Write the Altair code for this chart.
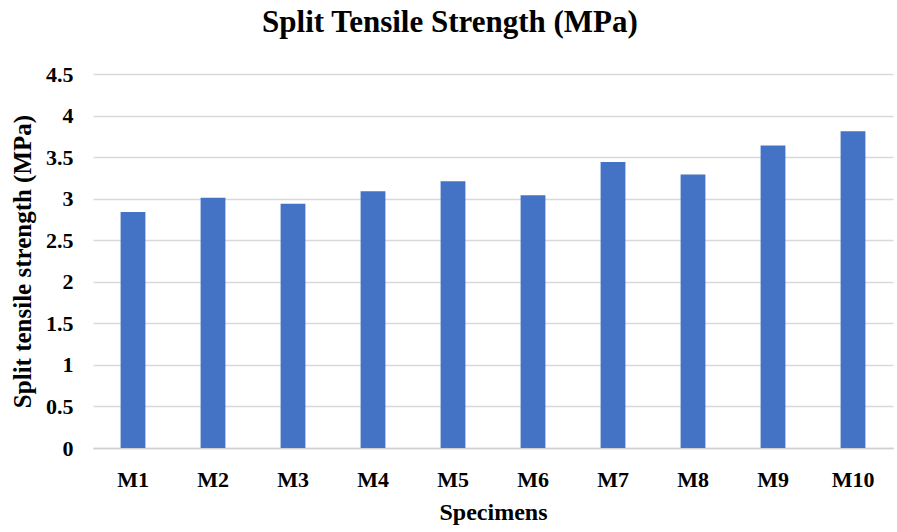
import altair as alt
import pandas as pd

specimens = ["M1", "M2", "M3", "M4", "M5", "M6", "M7", "M8", "M9", "M10"]
strength = [2.84, 3.01, 2.94, 3.09, 3.21, 3.04, 3.44, 3.29, 3.64, 3.81]
y_ticks = [0, 0.5, 1, 1.5, 2, 2.5, 3, 3.5, 4, 4.5]

df = pd.DataFrame({"Specimen": specimens, "Strength": strength})

font = "Liberation Serif"

chart = alt.Chart(df).mark_bar(color="#4472C4").encode(
    x=alt.X("Specimen:N", sort=specimens, title="Specimens",
            scale=alt.Scale(paddingInner=0.69, paddingOuter=0.345),
            axis=alt.Axis(labelAngle=0, labelFont=font, labelFontSize=22,
                          labelFontWeight="bold", labelColor="black",
                          labelPadding=21, ticks=False, domainColor="#d0d0d0",
                          domainWidth=1.5,
                          titleFont=font, titleFontSize=24, titleFontWeight="bold",
                          titleColor="black", titlePadding=10)),
    y=alt.Y("Strength:Q", title="Split tensile strength (MPa)",
            scale=alt.Scale(domain=[0, 4.5], nice=False),
            axis=alt.Axis(values=y_ticks, format="~g",
                          labelFont=font, labelFontSize=22, labelFontWeight="bold",
                          labelColor="black", labelPadding=20, ticks=False,
                          domain=False, gridColor="#d9d9d9", gridWidth=1.5,
                          titleFont=font, titleFontSize=25, titleFontWeight="bold",
                          titleColor="black", titlePadding=10)),
).properties(
    width=800, height=374,
    title=alt.TitleParams("Split Tensile Strength (MPa)", font=font, fontSize=31,
                          fontWeight="bold", color="black", anchor="middle",
                          dx=-43, offset=24),
    autosize=alt.AutoSizeParams(type="none"),
    padding={"left": 93, "top": 74, "right": 4, "bottom": 84},
).configure_view(stroke=None)

chart.save("out.html", embed_options={"renderer": "svg", "actions": False})
